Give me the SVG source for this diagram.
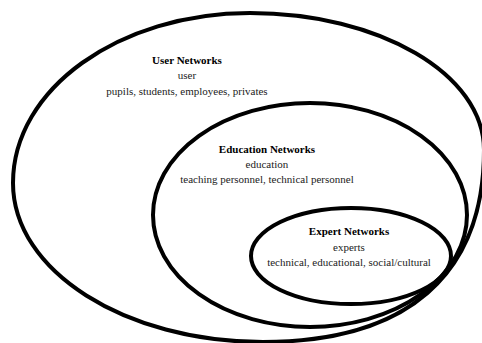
<svg xmlns="http://www.w3.org/2000/svg" width="482" height="343" viewBox="0 0 482 343">
<style>
.ring{fill:none;stroke:#000;stroke-width:4}
.lbl{font-family:'Liberation Serif','Times New Roman',Times,serif;font-size:11px;fill:#222;text-anchor:middle}
.t{font-weight:bold;fill:#000}
</style>
<rect width="482" height="343" fill="#fff"/>
<g id="user-networks">
<path class="ring" d="M250,13 C379,13 484,74 484,150 C484,275 407,342 263,342 C125,342 13,271 13,183 C13,89 119,13 250,13 Z"/>
<text class="lbl t" x="187" y="64" font-family="Liberation Serif, serif">User Networks</text>
<text class="lbl" x="187" y="79" font-family="Liberation Serif, serif">user</text>
<text class="lbl" x="187" y="95" font-family="Liberation Serif, serif">pupils, students, employees, privates</text>
</g>
<g id="education-networks">
<ellipse class="ring" cx="310" cy="215" rx="157" ry="112"/>
<text class="lbl t" x="267" y="153" font-family="Liberation Serif, serif">Education Networks</text>
<text class="lbl" x="267" y="168" font-family="Liberation Serif, serif">education</text>
<text class="lbl" x="267" y="183" font-family="Liberation Serif, serif">teaching personnel, technical personnel</text>
</g>
<g id="expert-networks">
<ellipse class="ring" cx="351" cy="256" rx="100" ry="48"/>
<text class="lbl t" x="349" y="235" font-family="Liberation Serif, serif">Expert Networks</text>
<text class="lbl" x="349" y="251" font-family="Liberation Serif, serif">experts</text>
<text class="lbl" x="349" y="266" font-family="Liberation Serif, serif">technical, educational, social/cultural</text>
</g>
<g id="connectors"/>
</svg>
